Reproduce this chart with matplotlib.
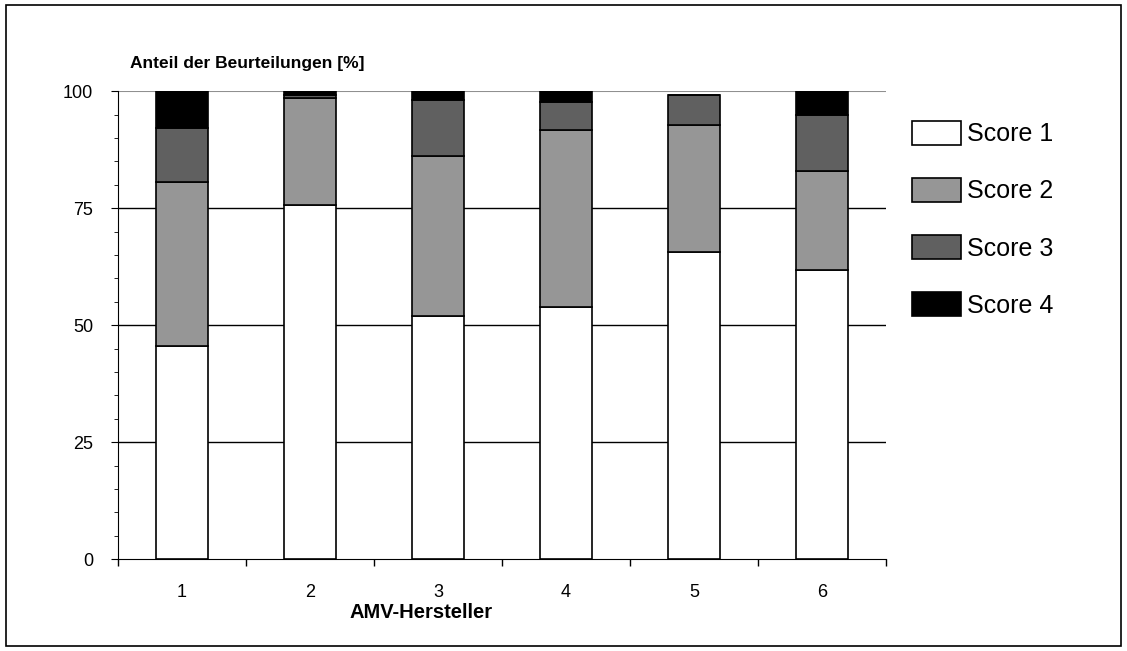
import numpy as np
import matplotlib.pyplot as plt
from matplotlib.patches import Rectangle
from matplotlib.ticker import MultipleLocator

plt.rcParams['font.family'] = ['Liberation Sans', 'DejaVu Sans']

hersteller = ['1', '2', '3', '4', '5', '6']
score_1 = [45.5, 75.6, 51.9, 53.8, 65.6, 61.8]
score_2 = [35.1, 23.0, 34.3, 37.9, 27.1, 21.1]
score_3 = [11.5, 0.5, 11.9, 6.0, 6.4, 12.1]
score_4 = [7.9, 0.9, 1.9, 2.3, 0.0, 5.0]
labels = ['Score 1', 'Score 2', 'Score 3', 'Score 4']
colors = ['#ffffff', '#969696', '#606060', '#000000']

fig = plt.figure(figsize=(11.27, 6.51), dpi=100)
fig.patches.append(Rectangle((0.005, 0.008), 0.99, 0.985, transform=fig.transFigure,
                             fill=False, edgecolor='black', linewidth=1.2))
ax = fig.add_axes([0.1047, 0.141, 0.6814, 0.719])

x = np.arange(1, len(hersteller) + 1)
bottom = np.zeros(len(hersteller))
for vals, lab, col in zip([score_1, score_2, score_3, score_4], labels, colors):
    ax.bar(x, vals, width=0.4, bottom=bottom, color=col, edgecolor='black',
           linewidth=1.2, label=lab, zorder=3)
    bottom += np.array(vals)

ax.set_xlim(0.5, 6.5)
ax.set_ylim(0, 100)
ax.set_yticks([0, 25, 50, 75, 100])
ax.yaxis.set_minor_locator(MultipleLocator(5))
ax.set_xticks(x)
ax.set_xticklabels(hersteller)
ax.set_xticks(np.arange(0.5, 6.6, 1.0), minor=True)
ax.tick_params(axis='x', which='major', length=0, pad=18, labelsize=13)
ax.tick_params(axis='x', which='minor', length=5, direction='out', width=1)
ax.tick_params(axis='y', which='major', length=5, direction='out', labelsize=13, pad=13)
ax.tick_params(axis='y', which='minor', length=3, direction='out')
for v in [25, 50, 75]:
    ax.axhline(v, color='black', linewidth=1, zorder=1)
ax.axhline(100, color='#909090', linewidth=1.5, zorder=1)
ax.spines['top'].set_visible(False)
ax.spines['right'].set_visible(False)

fig.text(0.374, 0.05, 'AMV-Hersteller', fontsize=14.5, fontweight='bold', ha='center')
fig.text(0.115, 0.896, 'Anteil der Beurteilungen [%]', fontsize=12.5, fontweight='bold')

ax.legend(loc='upper left', bbox_to_anchor=(1.005, 0.985), frameon=False, fontsize=18,
          handlelength=1.95, handleheight=1.1, labelspacing=1.27, handletextpad=0.25)

fig.savefig('out.png', dpi=100)
